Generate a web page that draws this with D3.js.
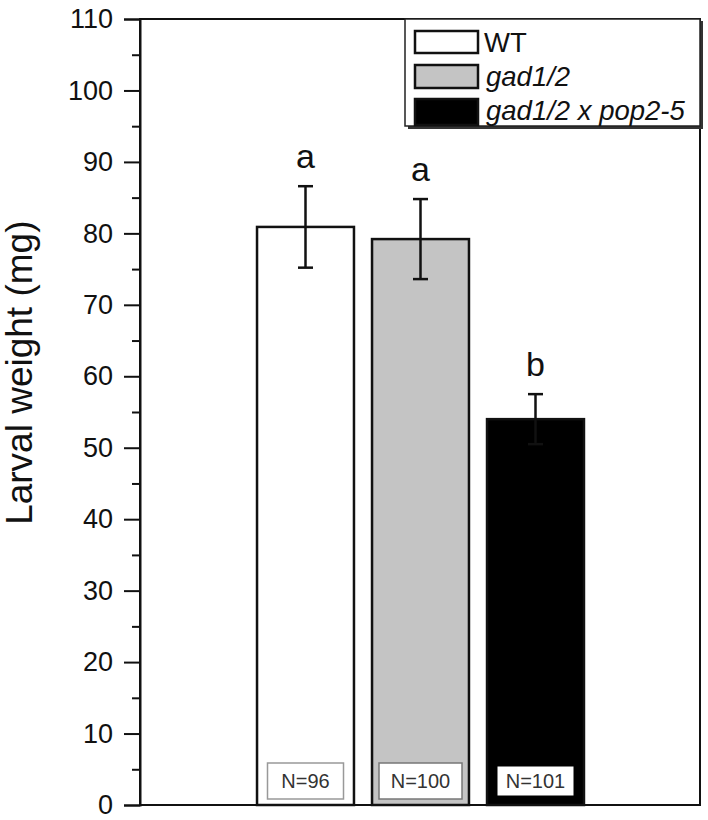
<!DOCTYPE html>
<html>
<head>
<meta charset="utf-8">
<script src="https://cdn.jsdelivr.net/npm/d3@7"></script>
<style>
  html, body { margin: 0; padding: 0; background: #fff; }
  svg { display: block; font-family: "Liberation Sans", Arial, Helvetica, sans-serif; }
</style>
</head>
<body>
<svg id="chart" width="708" height="820"></svg>
<script>
// ---- data ----
const categories = ["WT", "gad1/2", "gad1/2 x pop2-5"];
const means = [80.9, 79.2, 54.0];
const errors = [5.7, 5.6, 3.5];
const letters = ["a", "a", "b"];
const nLabels = ["N=96", "N=100", "N=101"];
const fills = ["#ffffff", "#c4c4c4", "#000000"];
const italic = [false, true, true];
const yTicks = [0, 10, 20, 30, 40, 50, 60, 70, 80, 90, 100, 110];
const yMinorTicks = [5, 15, 25, 35, 45, 55, 65, 75, 85, 95, 105];
const yTitle = "Larval weight (mg)";

// ---- layout ----
const svg = d3.select("#chart");
const mLeft = 140, mRight = 700, mTop = 19, mBottom = 805;

const y = d3.scaleLinear().domain([0, 110]).range([mBottom, mTop]);
const x = d3.scaleBand().domain(categories).range([248, 593])
  .paddingInner(0.157).paddingOuter(0.0785);

// frame
svg.append("rect")
  .attr("x", mLeft).attr("y", mTop)
  .attr("width", mRight - mLeft).attr("height", mBottom - mTop)
  .attr("fill", "none").attr("stroke", "#111").attr("stroke-width", 2);

// y axis major
const axisMajor = d3.axisLeft(y).tickValues(yTicks).tickSize(16).tickPadding(11)
  .tickFormat(d3.format("d"));
const gAx = svg.append("g").attr("transform", `translate(${mLeft},0)`).call(axisMajor);
gAx.select(".domain").attr("stroke", "#111").attr("stroke-width", 2);
gAx.selectAll(".tick line").attr("stroke", "#111").attr("stroke-width", 2);
gAx.selectAll(".tick text").attr("font-size", 27).attr("fill", "#111")
  .attr("font-family", "'Liberation Sans', Arial, sans-serif");

// y axis minor
const axisMinor = d3.axisLeft(y).tickValues(yMinorTicks).tickSize(8).tickFormat("");
const gMin = svg.append("g").attr("transform", `translate(${mLeft},0)`).call(axisMinor);
gMin.select(".domain").remove();
gMin.selectAll(".tick line").attr("stroke", "#111").attr("stroke-width", 2);

// y title
svg.append("text")
  .attr("transform", `translate(32, ${y(60.5)}) rotate(-90)`)
  .attr("text-anchor", "middle")
  .attr("font-size", 37).attr("fill", "#111")
  .text(yTitle);

// bars
const data = categories.map((c, i) => ({ c, m: means[i], e: errors[i], l: letters[i], n: nLabels[i], f: fills[i] }));

svg.append("g").selectAll("rect").data(data).join("rect")
  .attr("x", d => x(d.c)).attr("y", d => y(d.m))
  .attr("width", x.bandwidth()).attr("height", d => y(0) - y(d.m))
  .attr("fill", d => d.f).attr("stroke", "#111").attr("stroke-width", 2.5);

// error bars
const capW = 15;
const eg = svg.append("g").attr("stroke", "#111").attr("stroke-width", 2.5);
data.forEach(d => {
  const cx = x(d.c) + x.bandwidth() / 2;
  eg.append("line").attr("x1", cx).attr("x2", cx).attr("y1", y(d.m - d.e)).attr("y2", y(d.m + d.e));
  eg.append("line").attr("x1", cx - capW / 2).attr("x2", cx + capW / 2).attr("y1", y(d.m + d.e)).attr("y2", y(d.m + d.e));
  eg.append("line").attr("x1", cx - capW / 2).attr("x2", cx + capW / 2).attr("y1", y(d.m - d.e)).attr("y2", y(d.m - d.e));
});

// significance letters
svg.append("g").selectAll("text").data(data).join("text")
  .attr("x", d => x(d.c) + x.bandwidth() / 2)
  .attr("y", d => y(d.m + d.e) - 18)
  .attr("text-anchor", "middle").attr("font-size", 34).attr("fill", "#111")
  .text(d => d.l);

// N boxes
const nBoxW = [76, 83, 76], nBoxH = [36, 36, 29];
const nStroke = ["#999", "#777", "none"];
data.forEach((d, i) => {
  const cx = x(d.c) + x.bandwidth() / 2;
  const cy = 781;
  svg.append("rect")
    .attr("x", cx - nBoxW[i] / 2).attr("y", cy - nBoxH[i] / 2)
    .attr("width", nBoxW[i]).attr("height", nBoxH[i])
    .attr("fill", "#fff").attr("stroke", nStroke[i]).attr("stroke-width", 1.5);
  svg.append("text")
    .attr("x", cx).attr("y", cy + 7)
    .attr("text-anchor", "middle").attr("font-size", 20).attr("fill", "#333")
    .text(d.n);
});

// legend
const lg = svg.append("g");
lg.append("rect").attr("x", 408).attr("y", 21).attr("width", 295).attr("height", 108)
  .attr("fill", "#333");
lg.append("rect").attr("x", 405).attr("y", mTop).attr("width", 295).attr("height", 107)
  .attr("fill", "#fff").attr("stroke", "#222").attr("stroke-width", 1.5);
const rowY = [31, 65, 99];
const rowH = [22, 23, 26];
data.forEach((d, i) => {
  lg.append("rect").attr("x", 415).attr("y", rowY[i]).attr("width", 63).attr("height", rowH[i])
    .attr("fill", d.f).attr("stroke", "#111").attr("stroke-width", 2.5);
  lg.append("text").attr("x", 484 + (italic[i] ? 2 : 0)).attr("y", rowY[i] + 21)
    .attr("font-size", 27.5).attr("fill", "#111")
    .attr("font-style", italic[i] ? "italic" : "normal")
    .text(d.c);
});
</script>
</body>
</html>
